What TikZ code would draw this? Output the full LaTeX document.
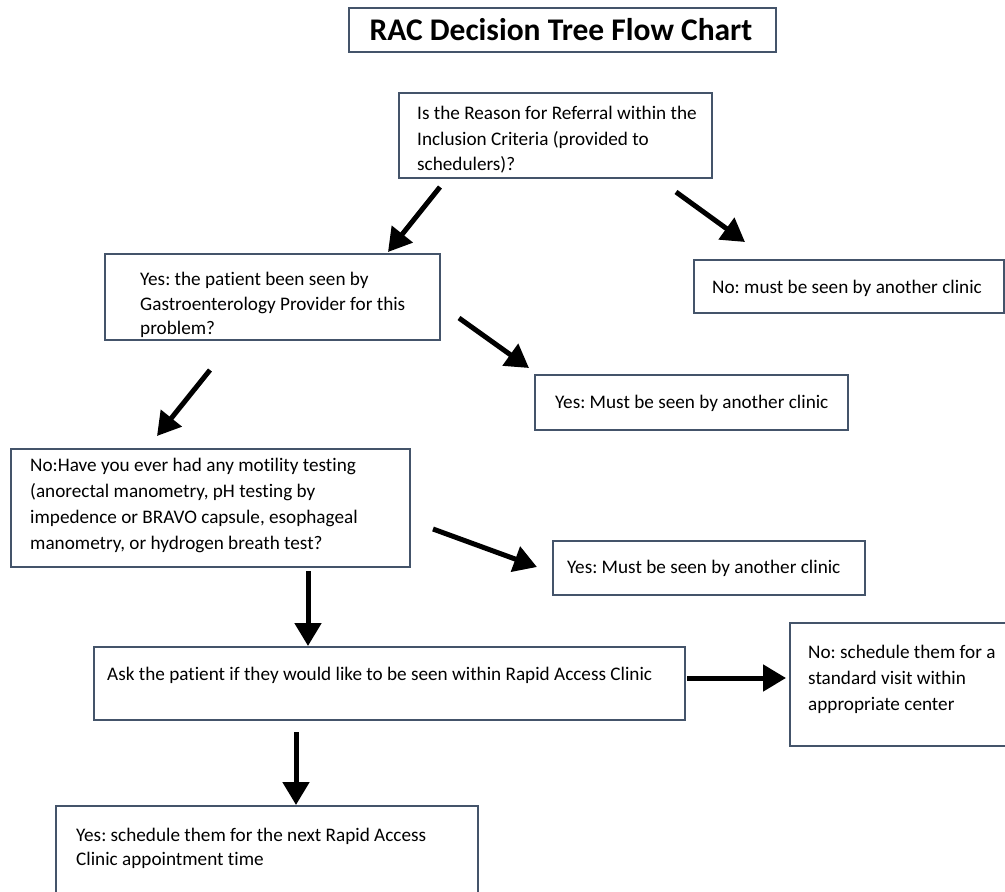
\documentclass[tikz,border=0pt]{standalone}
\usepackage{fontspec}
\setmainfont{Carlito}[Ligatures=NoCommon]
\usetikzlibrary{arrows.meta}
\definecolor{boxline}{RGB}{68,84,106}
\frenchspacing
\tikzset{
  box/.style={draw=boxline, line width=1.3pt, fill=white},
  txt/.style={anchor=north west, inner sep=0pt, align=left, font=\fontsize{19.2}{25.5}\selectfont\frenchspacing, text=black},
  arr/.style={line width=5pt, -{Triangle[length=23pt,width=26pt]}, black}
}
\begin{document}
\begin{tikzpicture}[x=1pt,y=-1pt]
\useasboundingbox (0,0) rectangle (1005,892);
\clip (0,0) rectangle (1005,892);
% title
\draw[box] (349,8) rectangle (776,52);
\node[inner sep=0pt, font=\fontsize{31.5}{36}\selectfont\bfseries] (title) at (561,30) {RAC Decision Tree Flow Chart};
% boxes
\draw[box] (399,93) rectangle (712,178);
\node[txt] (t1) at (417,106) {Is the Reason for Referral within the\\Inclusion Criteria (provided to\\schedulers)?};
\draw[box] (105,254) rectangle (440,340);
\node[txt, font=\fontsize{19.2}{24.5}\selectfont] (t2) at (140,272) {Yes: the patient been seen by\\Gastroenterology Provider for this\\problem?};
\draw[box] (694,260) rectangle (1004,313);
\node[txt] (t3) at (712,280) {No: must be seen by another clinic};
\draw[box] (535,375) rectangle (848,430);
\node[txt] (t4) at (555,395) {Yes: Must be seen by another clinic};
\draw[box] (11,449) rectangle (410,567);
\node[txt, font=\fontsize{19.2}{26}\selectfont] (t5) at (30,458) {No:Have you ever had any motility testing\\(anorectal manometry, pH testing by\\impedence or BRAVO capsule, esophageal\\manometry, or hydrogen breath test?};
\draw[box] (553,541) rectangle (865,595);
\node[txt] (t6) at (567,560) {Yes: Must be seen by another clinic};
\draw[box] (94,647) rectangle (685,720);
\node[txt] (t7) at (107,667) {Ask the patient if they would like to be seen within Rapid Access Clinic};
\draw[box] (790,623) rectangle (1010,746);
\node[txt, font=\fontsize{19.2}{26}\selectfont] (t8) at (808,645) {No: schedule them for a\\standard visit within\\appropriate center};
\draw[box] (56,806) rectangle (478,900);
\node[txt, font=\fontsize{19.2}{24}\selectfont] (t9) at (76,828) {Yes: schedule them for the next Rapid Access\\Clinic appointment time};
% arrow end points
\coordinate (a1s) at (440,187); \coordinate (a1e) at (388,252);
\coordinate (a2s) at (676,192); \coordinate (a2e) at (745,242);
\coordinate (a3s) at (459,318); \coordinate (a3e) at (529,368);
\coordinate (a4s) at (210,370); \coordinate (a4e) at (157,436);
\coordinate (a5s) at (433,529); \coordinate (a5e) at (537,567);
\coordinate (a6s) at (308,571); \coordinate (a6e) at (308,646);
\coordinate (a7s) at (687,678); \coordinate (a7e) at (786,678);
\coordinate (a8s) at (296,732); \coordinate (a8e) at (296,805);
\foreach \i in {1,...,8} {\draw[arr] (a\i s) -- (a\i e);}
\end{tikzpicture}
\end{document}
